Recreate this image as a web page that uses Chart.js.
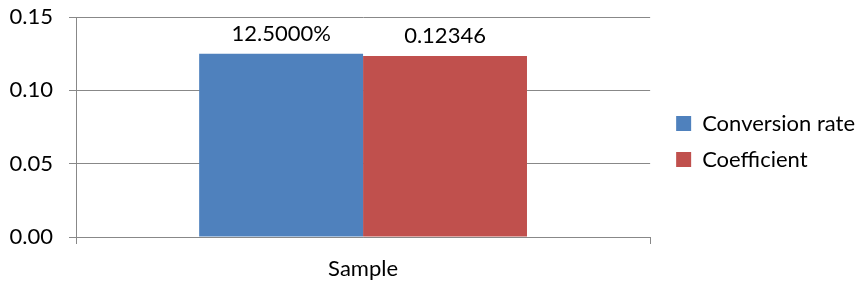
<!DOCTYPE html>
<html>
<head>
<meta charset="utf-8">
<script src="https://cdn.jsdelivr.net/npm/chart.js@4"></script>
<style>
  html, body { margin: 0; padding: 0; background: #fff; }
  #wrap { width: 866px; height: 289px; }
</style>
</head>
<body>
<div id="wrap"><canvas id="grafico"></canvas></div>
<script>
const categorias = ['Sample'];
const tasaConversion = [0.125];
const coeficiente = [0.12346];
const etiquetasValor = [['12.5000%'], ['0.12346']];
const ticksY = [0, 0.05, 0.10, 0.15];

const fuente = 'Lato, "Open Sans", sans-serif';
const gris = '#888888';

// dibuja las etiquetas de valor encima de cada barra
const etiquetasPlugin = {
    id: 'etiquetas',
    afterDatasetsDraw(chart) {
        const ctx = chart.ctx;
        ctx.save();
        ctx.font = '22px ' + fuente;
        ctx.fillStyle = '#000';
        ctx.textAlign = 'center';
        ctx.textBaseline = 'alphabetic';
        chart.data.datasets.forEach((ds, i) => {
            chart.getDatasetMeta(i).data.forEach((bar, j) => {
                ctx.fillText(etiquetasValor[i][j], bar.x, bar.y - 13);
            });
        });
        ctx.restore();
    }
};

// separa un poco la leyenda del área del gráfico
const moverLeyenda = {
    id: 'moverLeyenda',
    afterLayout(chart) {
        chart.legend.left += 12;
        chart.legend.right += 12;
        chart.legend.top -= 3;
        chart.legend.bottom -= 3;
    }
};

new Chart(document.getElementById('grafico'), {
    type: 'bar',
    data: {
        labels: categorias,
        datasets: [
            { label: 'Conversion rate', data: tasaConversion, backgroundColor: '#4f81bd' },
            { label: 'Coefficient', data: coeficiente, backgroundColor: '#c0504d' }
        ]
    },
    options: {
        responsive: true,
        maintainAspectRatio: false,
        animation: false,
        layout: { padding: { top: 0, left: 10, right: 13, bottom: 0 } },
        datasets: { bar: { categoryPercentage: 0.571, barPercentage: 1.0 } },
        plugins: {
            legend: {
                position: 'right',
                labels: {
                    font: { family: fuente, size: 22, lineHeight: 0.6 },
                    color: '#000',
                    boxWidth: 15,
                    boxHeight: 15,
                    padding: 14
                }
            },
            tooltip: { enabled: false }
        },
        scales: {
            x: {
                grid: { drawOnChartArea: false, color: gris, tickLength: 7, offset: true },
                border: { color: gris },
                ticks: { font: { family: fuente, size: 22 }, color: '#000', padding: 12 },
                afterFit(scale) {
                    scale.height = 52;
                }
            },
            y: {
                min: 0,
                max: 0.15,
                afterBuildTicks(scale) {
                    scale.ticks = ticksY.map(v => ({ value: v }));
                },
                grid: { color: gris, tickLength: 7 },
                border: { color: gris },
                ticks: {
                    font: { family: fuente, size: 22 },
                    color: '#000',
                    padding: 16,
                    callback: v => v.toFixed(2)
                },
                afterFit(scale) {
                    scale.width = 66;
                    scale.paddingTop = 17;
                    scale.paddingBottom = 0;
                }
            }
        }
    },
    plugins: [etiquetasPlugin, moverLeyenda]
});
</script>
</body>
</html>
